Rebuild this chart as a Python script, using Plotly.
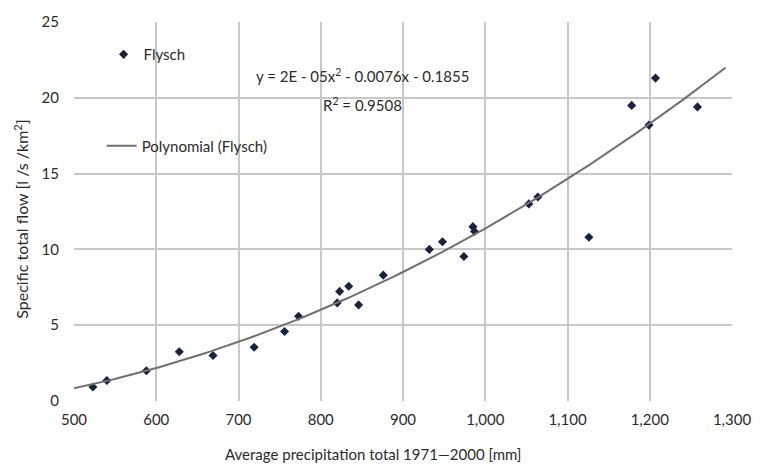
import numpy as np
import plotly.graph_objects as go

precip = [523, 540, 588, 628, 669, 719, 756, 773, 820, 823, 834, 846, 876,
          932, 948, 974, 985, 987, 1053, 1064, 1126, 1178, 1199, 1207, 1258]
flow = [0.92, 1.35, 2.0, 3.25, 3.0, 3.55, 4.58, 5.59, 6.47, 7.23, 7.57, 6.34, 8.3,
        10.0, 10.5, 9.53, 11.5, 11.18, 13.0, 13.46, 10.8, 19.5, 18.2, 21.3, 19.4]

x_ticks = [500, 600, 700, 800, 900, 1000, 1100, 1200, 1300]
x_tick_labels = ["500", "600", "700", "800", "900", "1,000", "1,100", "1,200", "1,300"]
y_ticks = [0, 5, 10, 15, 20, 25]

equation_text = "y = 2E - 05x<sup>2</sup> - 0.0076x - 0.1855"
r2_text = "R<sup>2</sup> = 0.9508"
x_title = "Average precipitation total 1971\u20142000 [mm]"
y_title = "Specific total flow [l /s /km<sup>2</sup>]"

# polynomial (order 2) trendline fitted to the data
coef = np.polyfit(precip, flow, 2)
trend_x = np.linspace(500, 1292, 200)
trend_y = np.polyval(coef, trend_x)

FONT = "Lato, Liberation Sans, sans-serif"
TXT = "#2b2b2b"
GRID = "#c8c8c8"

fig = go.Figure()
fig.add_trace(go.Scatter(
    x=precip, y=flow, mode="markers", name="Flysch",
    marker=dict(symbol="diamond", size=7, color="#1c2140"),
    legend="legend", showlegend=True,
))
fig.add_trace(go.Scatter(
    x=trend_x, y=trend_y, mode="lines", name="Polynomial (Flysch)",
    line=dict(color="#707070", width=2),
    legend="legend2", showlegend=True,
))

fig.add_annotation(
    xref="paper", yref="paper", x=0.439, y=0.858, xanchor="center", yanchor="middle",
    text=equation_text, showarrow=False, font=dict(family=FONT, size=15, color=TXT),
)
fig.add_annotation(
    xref="paper", yref="paper", x=0.439, y=0.783, xanchor="center", yanchor="middle",
    text=r2_text, showarrow=False, font=dict(family=FONT, size=15, color=TXT),
)
# axis titles
fig.add_annotation(
    xref="paper", yref="paper", x=0.455, y=-0.14, xanchor="center", yanchor="middle",
    text=x_title, showarrow=False, font=dict(family=FONT, size=15, color=TXT),
)
fig.add_annotation(
    xref="paper", yref="paper", x=-0.081, y=0.48, xanchor="center", yanchor="middle",
    text=y_title, textangle=-90, showarrow=False,
    font=dict(family=FONT, size=16, color=TXT),
)

fig.update_layout(
    width=763, height=470,
    margin=dict(l=74, r=26, t=14, b=69),
    paper_bgcolor="white", plot_bgcolor="white",
    showlegend=True,
    font=dict(family=FONT, size=15, color=TXT),
    legend=dict(x=0.045, y=0.914, xanchor="left", yanchor="middle",
                bgcolor="rgba(0,0,0,0)", font=dict(size=15)),
    legend2=dict(x=0.042, y=0.673, xanchor="left", yanchor="middle",
                 bgcolor="rgba(0,0,0,0)", font=dict(size=15)),
    xaxis=dict(
        range=[500, 1300], tickvals=x_ticks, ticktext=x_tick_labels,
        showgrid=True, gridcolor=GRID, gridwidth=2,
        zeroline=False, showline=False, ticks="",
        ticklabelstandoff=8,
        tickfont=dict(size=15),
    ),
    yaxis=dict(
        range=[0, 25], tickvals=y_ticks,
        showgrid=True, gridcolor=GRID, gridwidth=2,
        zeroline=False, showline=False, ticks="",
        ticklabelstandoff=14,
        tickfont=dict(size=15),
    ),
)

fig.write_html("out.html")
